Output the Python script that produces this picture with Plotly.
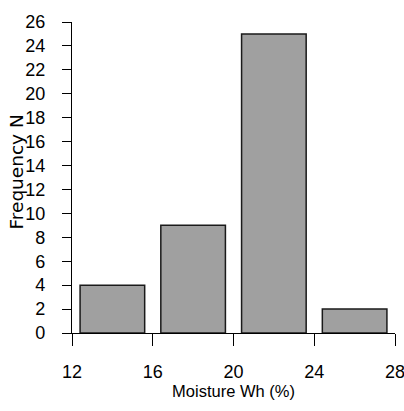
import plotly.graph_objects as go

# Histogram of moisture content: bin centres (%), counts per 4 %-wide bin
bin_centers = [14, 18, 22, 26]
counts = [4, 9, 25, 2]
x_ticks = [12, 16, 20, 24, 28]
y_ticks = list(range(0, 27, 2))

font_family = "Liberation Sans, Arial, sans-serif"

fig = go.Figure(
    go.Bar(
        x=bin_centers,
        y=counts,
        marker=dict(color="#a0a0a0", line=dict(color="#1a1a1a", width=1.5)),
    )
)

fig.update_layout(
    width=404,
    height=411,
    margin=dict(l=72, r=9, t=22, b=78),
    paper_bgcolor="white",
    plot_bgcolor="white",
    bargap=0.2,
    showlegend=False,
    font=dict(family=font_family, color="black"),
)

fig.update_xaxes(
    range=[12, 28],
    tickvals=x_ticks,
    ticktext=[str(v) for v in x_ticks],
    ticks="outside",
    ticklen=12,
    tickwidth=1.3,
    tickcolor="black",
    showline=True,
    linecolor="black",
    linewidth=1.3,
    showgrid=False,
    zeroline=False,
    automargin=False,
    ticklabeloverflow="allow",
    ticklabelstandoff=10,
    tickfont=dict(size=18),
    title=dict(text="Moisture Wh (%)", font=dict(size=16.5), standoff=2),
)

fig.update_yaxes(
    range=[0, 26],
    tickvals=y_ticks,
    ticks="outside",
    ticklen=9,
    tickwidth=1.3,
    tickcolor="black",
    showline=True,
    linecolor="black",
    linewidth=1.3,
    showgrid=False,
    zeroline=False,
    automargin=False,
    ticklabelstandoff=13,
    tickfont=dict(size=18),
)

# Vertical axis title, placed left of the tick labels
fig.add_annotation(
    text="Frequency N",
    xref="paper",
    yref="paper",
    x=0,
    y=0.5,
    xshift=-56,
    yshift=5,
    xanchor="center",
    yanchor="middle",
    textangle=-90,
    showarrow=False,
    font=dict(size=18.5, family="DejaVu Sans", color="black"),
)

fig.write_html("out.html")
